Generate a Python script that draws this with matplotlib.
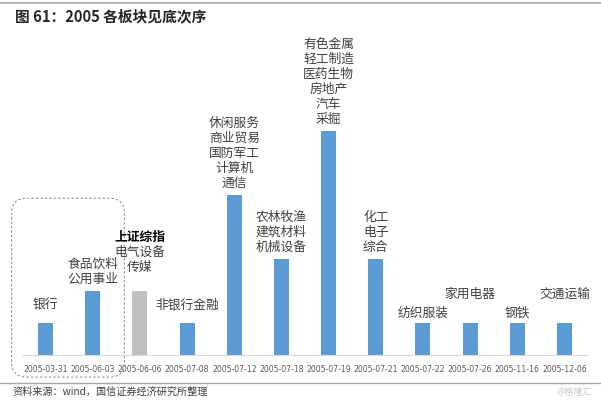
import matplotlib
matplotlib.use("Agg")
import matplotlib.pyplot as plt
from matplotlib.patches import FancyBboxPatch

CJK = ["Noto Sans CJK SC", "DejaVu Sans"]
plt.rcParams["font.family"] = CJK

# data
dates = ["2005-03-31", "2005-06-03", "2005-06-06", "2005-07-08", "2005-07-12", "2005-07-18",
         "2005-07-19", "2005-07-21", "2005-07-22", "2005-07-26", "2005-11-16", "2005-12-06"]
counts = [1, 2, 2, 1, 5, 3, 7, 3, 1, 1, 1, 1]
sectors = [
    ["银行"],
    ["食品饮料", "公用事业"],
    ["上证综指", "电气设备", "传媒"],
    ["非银行金融"],
    ["休闲服务", "商业贸易", "国防军工", "计算机", "通信"],
    ["农林牧渔", "建筑材料", "机械设备"],
    ["有色金属", "轻工制造", "医药生物", "房地产", "汽车", "采掘"],
    ["化工", "电子", "综合"],
    ["纺织服装"],
    ["家用电器"],
    ["钢铁"],
    ["交通运输"],
]
index_col = 2  # the 上证综指 column, drawn grey

# layout tweaks (pixels) for label stacks
label_raise = [6, 0, 12, 6, 0, 0, 0, 0, -2, 17, -2, 17]
line_step = 15

W, H = 601, 401
fig = plt.figure(figsize=(W / 100, H / 100), dpi=100)
ax = fig.add_axes([22 / W, (H - 355) / H, 566 / W, 288 / H])

x = list(range(len(dates)))
colors = ["#BFBFBF" if i == index_col else "#5B9BD5" for i in x]
ax.bar(x, counts, width=0.32, color=colors, zorder=2)
ax.set_xlim(-0.5, len(dates) - 0.5)
ax.set_ylim(0, 9)
ax.set_yticks([])
ax.set_xticks(x)
ax.set_xticklabels(dates, fontsize=6.2, color="#595959",
                   family="DejaVu Sans", fontstretch="condensed")
ax.tick_params(axis="x", length=0, pad=7)
for s in ["top", "right", "left"]:
    ax.spines[s].set_visible(False)
ax.spines["bottom"].set_color("#D9D9D9")
ax.spines["bottom"].set_linewidth(0.8)

# stacked labels above each bar
for i, (c, names) in enumerate(zip(counts, sectors)):
    for k, name in enumerate(reversed(names)):
        bold = (i == index_col and name == "上证综指")
        ax.annotate(name, (i, c), xytext=(0, 5 + label_raise[i] + k * line_step),
                    textcoords="offset pixels", ha="center", va="bottom",
                    fontsize=9.2, color="#000000" if bold else "#404040",
                    fontweight="bold" if bold else "normal",
                    annotation_clip=False)

# dashed rounded frame around the first two bars
frame = FancyBboxPatch((-0.4, -0.22), 1.75, 4.65,
                       boxstyle="round,pad=0.32,rounding_size=0.32",
                       mutation_aspect=47 / 32, fill=False, ec="#8C8C8C",
                       lw=0.8, ls=(0, (2, 2)), clip_on=False, zorder=1)
ax.add_patch(frame)

# header and footer
fig.add_artist(plt.Line2D([0, 1], [1 - 3 / H, 1 - 3 / H], color="#A6A6A6", lw=1.2))
fig.text(15 / W, 1 - 16 / H, "图 61：2005 各板块见底次序", fontsize=10.6, fontweight="bold",
         color="#262626", va="center", ha="left")
fig.add_artist(plt.Line2D([0, 1], [1 - 383 / H, 1 - 383 / H], color="#A6A6A6", lw=1.0))
fig.text(12 / W, 1 - 392 / H, "资料来源：wind，国信证券经济研究所整理", fontsize=7.3,
         color="#404040", va="center", ha="left")
fig.text(592 / W, 1 - 392 / H, "@格隆汇", fontsize=6.5, color="#C8C8C8",
         va="center", ha="right")

fig.savefig("out.png", dpi=100)
